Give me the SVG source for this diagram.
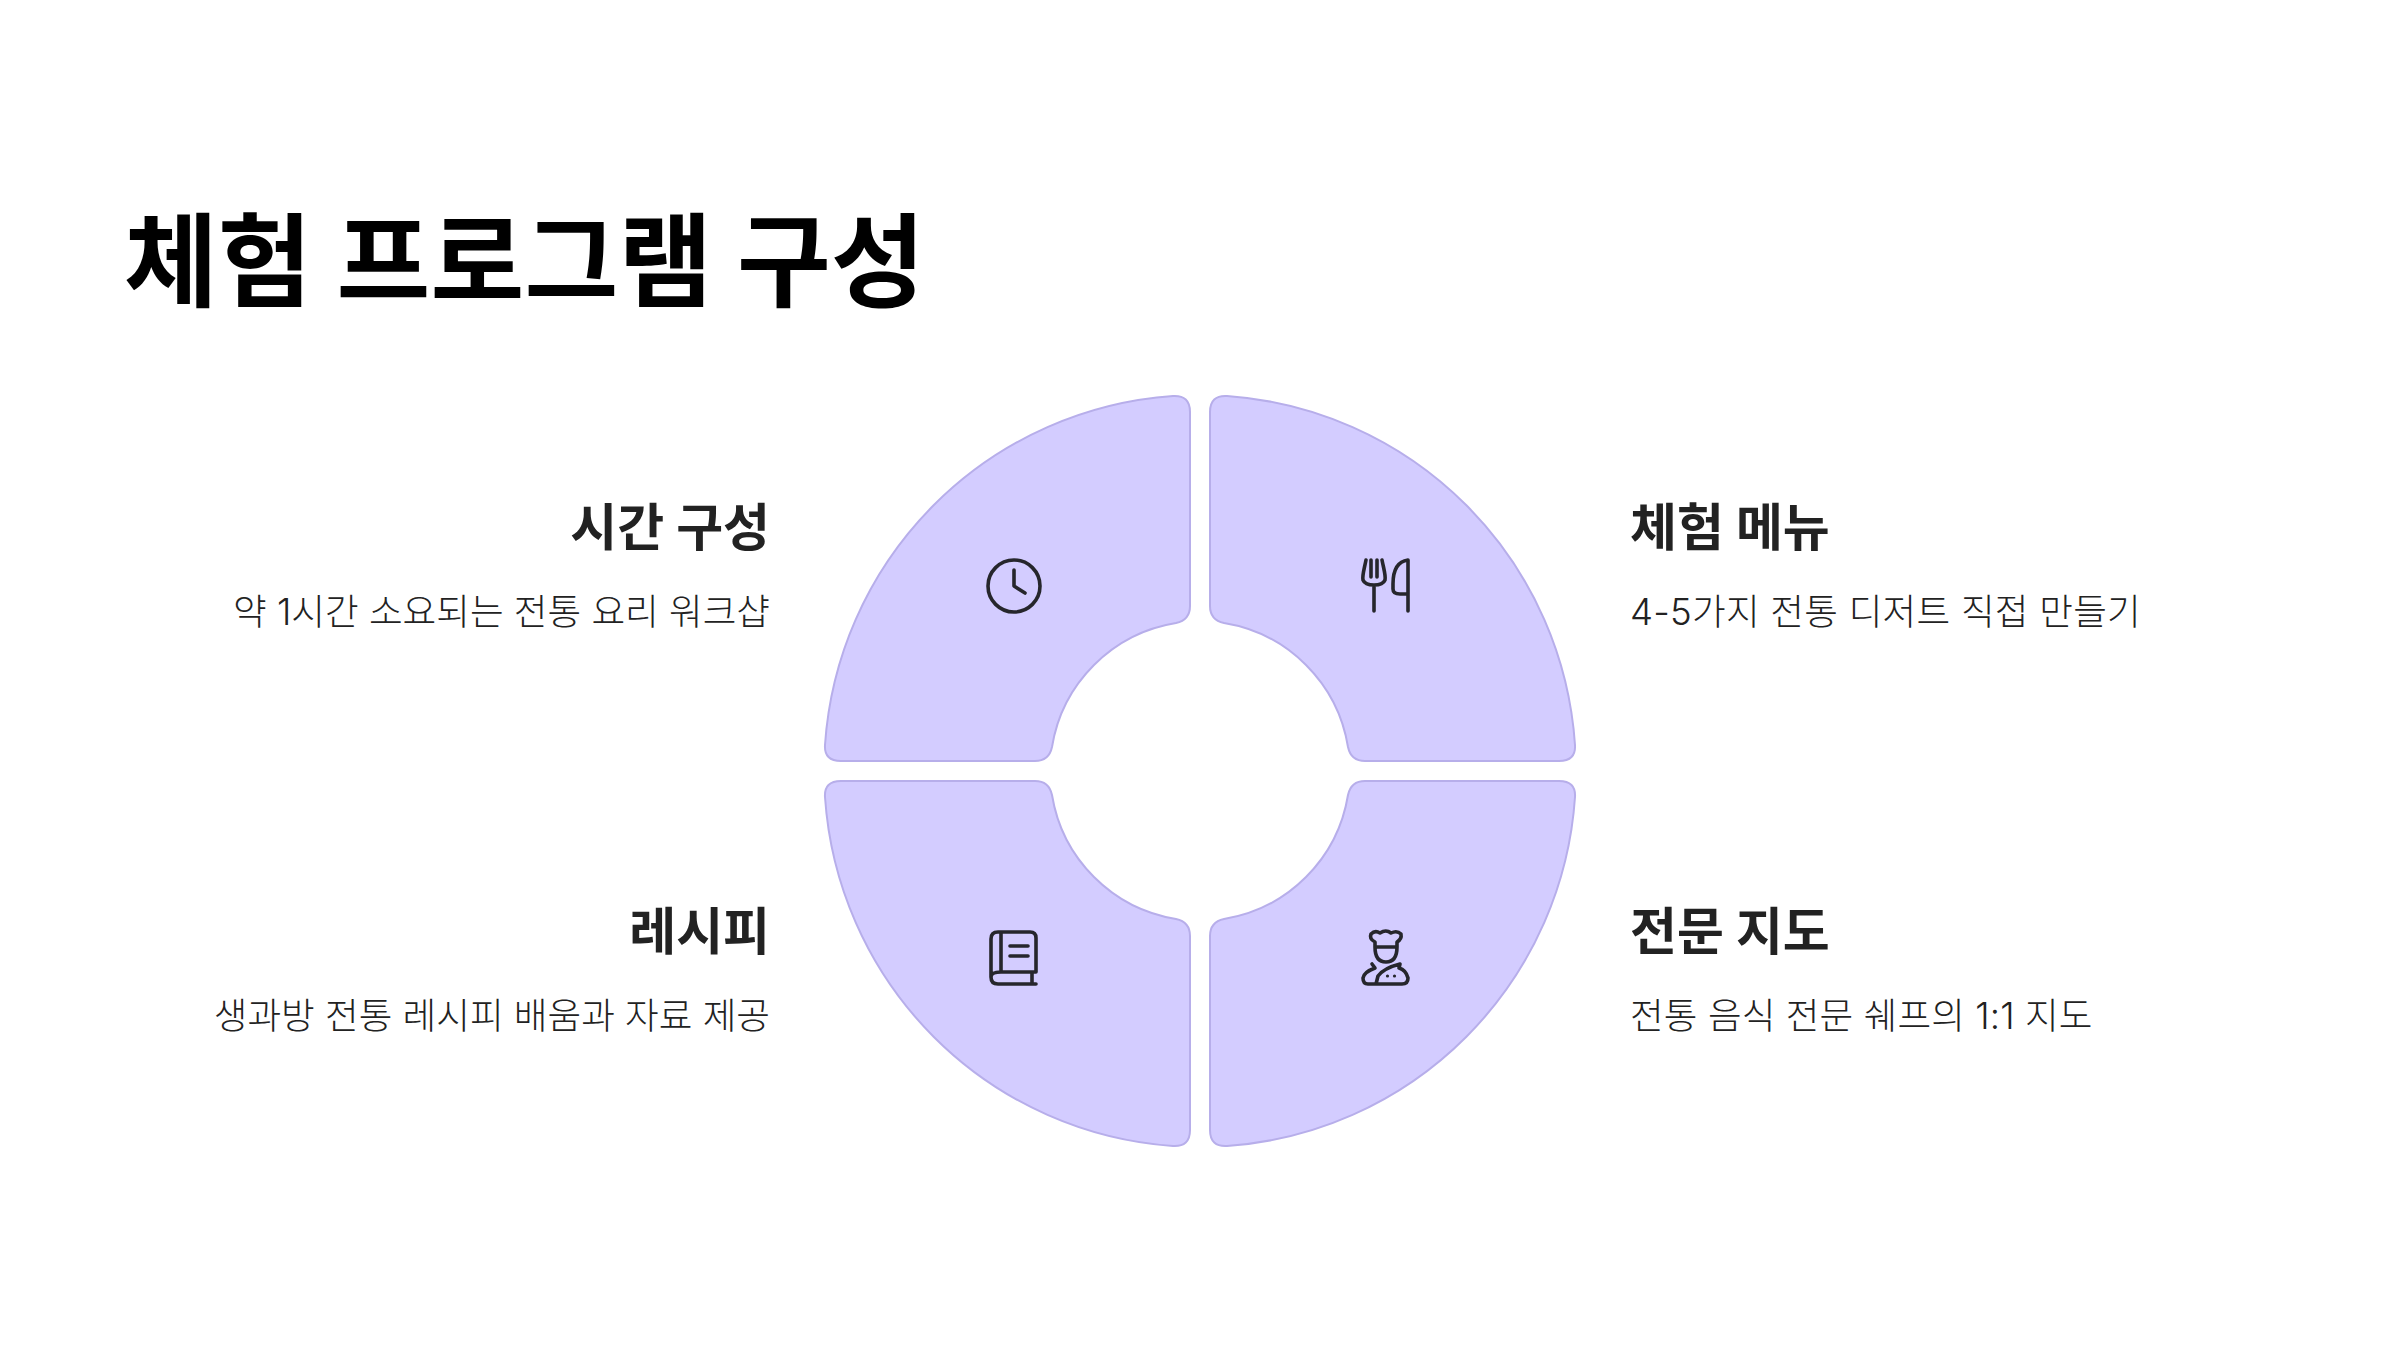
<svg xmlns="http://www.w3.org/2000/svg" width="2400" height="1350" viewBox="0 0 2400 1350">
<style>
text{font-family:"Inter","Noto Sans CJK KR",sans-serif}
.t{font-size:102px;font-weight:700;fill:#000;letter-spacing:.2px}
.h{font-size:51px;font-weight:700;fill:#222}
.d{font-size:36.6px;font-weight:300;fill:#222}
.s{fill:#d3ccff;stroke:#b7aeea;stroke-width:2}
.i{fill:none;stroke:#26262c;stroke-width:3.6;stroke-linecap:round;stroke-linejoin:round}
</style>
<rect width="2400" height="1350" fill="#fff"/>
<text class="t" x="124" y="299">체험 프로그램 구성</text>
<g id="n1"><path class="s" d="M1190 412V606Q1190 620 1176 623A150 150 0 0 0 1052 747Q1049 761 1035 761H841Q824 761 825 745A375 375 0 0 1 1173 396Q1190 395 1190 412Z"/>
<circle class="i" cx="1014" cy="586" r="26"/><path class="i" d="M1014 570V586L1025 593"/>
<text class="h" x="770" y="546" text-anchor="end">시간 구성</text><text class="d" x="770" y="625" text-anchor="end">약 1시간 소요되는 전통 요리 워크샵</text></g>
<g id="n2"><path class="s" d="M1210 412V606Q1210 620 1224 623A150 150 0 0 1 1348 747Q1351 761 1365 761H1559Q1576 761 1575 745A375 375 0 0 0 1227 396Q1210 395 1210 412Z"/>
<path class="i" d="M1366 560C1364 570 1362 576 1363 580Q1365 585 1374 585Q1383 585 1385 580C1386 576 1384 570 1382 560M1371 560V577M1377 560V577M1374 585V611M1408 611V560Q1393 562 1393 584V589Q1393 594 1400 594H1408"/>
<text class="h" x="1630" y="546">체험 메뉴</text><text class="d" x="1630" y="625" style="letter-spacing:.25px">4-5가지 전통 디저트 직접 만들기</text></g>
<g id="n3"><path class="s" d="M1190 1130V936Q1190 922 1176 919A150 150 0 0 1 1052 795Q1049 781 1035 781H841Q824 781 825 797A375 375 0 0 0 1173 1146Q1190 1147 1190 1130Z"/>
<path class="i" d="M1001 972H1036V938Q1036 932 1030 932H998Q991 932 991 939V977Q991 984 998 984H1036M991 977Q991 972 1001 972M1001 932V972M1010 946H1028M1010 956H1028M1032 972V984"/>
<text class="h" x="770" y="950" text-anchor="end">레시피</text><text class="d" x="770" y="1029" text-anchor="end">생과방 전통 레시피 배움과 자료 제공</text></g>
<g id="n4"><path class="s" d="M1210 1130V936Q1210 922 1224 919A150 150 0 0 0 1348 795Q1351 781 1365 781H1559Q1576 781 1575 797A375 375 0 0 1 1227 1146Q1210 1147 1210 1130Z"/>
<path class="i" d="M1375 947V942Q1369 939 1371 934Q1375 930 1380 933Q1386 929 1391 933Q1397 930 1401 934Q1402 939 1397 942V947M1375 947H1397M1375 947Q1375 962 1386 962Q1397 962 1397 947M1372 964L1375 968Q1364 972 1363 978Q1363 984 1368 984H1402Q1408 984 1408 978Q1406 970 1399 968L1400 964Q1384 968 1378 976L1376 984"/>
<circle cx="1387.5" cy="976" r="1.6" fill="#26262c"/><circle cx="1394.5" cy="976" r="1.6" fill="#26262c"/>
<text class="h" x="1630" y="950">전문 지도</text><text class="d" x="1630" y="1029" style="letter-spacing:.1px">전통 음식 전문 쉐프의 1:1 지도</text></g>
<g id="connectors"></g>
</svg>
